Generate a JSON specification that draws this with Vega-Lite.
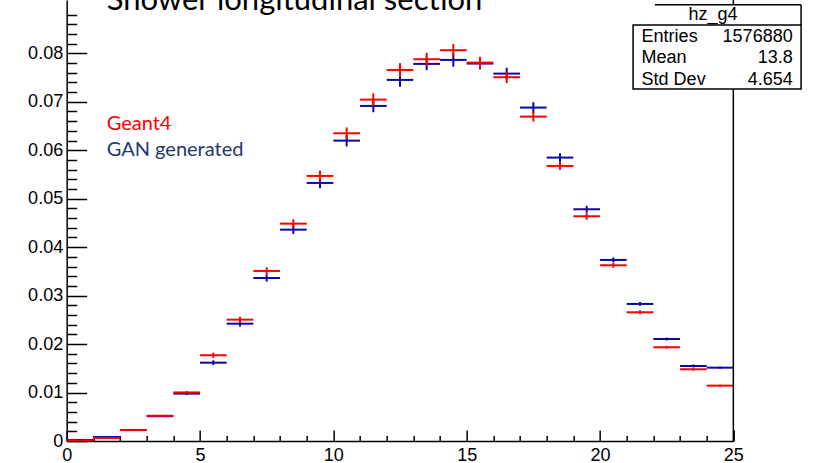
{
  "$schema": "https://vega.github.io/schema/vega-lite/v6.json",
  "width": 666.67,
  "height": 441,
  "autosize": {"type": "none"},
  "padding": {"left": 66.67, "top": 0, "right": 84.66, "bottom": 22},
  "background": "white",
  "config": {"view": {"stroke": null}, "font": "Liberation Sans"},
  "title": {
    "text": "Shower longitudinal section",
    "anchor": "start",
    "frame": "group",
    "font": "Lato",
    "fontSize": 31,
    "fontWeight": "normal",
    "color": "black",
    "baseline": "alphabetic",
    "offset": -28,
    "dx": 40,
    "dy": 14
  },
  "datasets": {
    "hist": [
      {"src": "GAN generated", "x": 0.5, "ex": 0.5, "y": 0.00022, "ey": 0.0001},
      {"src": "GAN generated", "x": 1.5, "ex": 0.5, "y": 0.00082, "ey": 0.0001},
      {"src": "GAN generated", "x": 2.5, "ex": 0.5, "y": 0.00226, "ey": 0.0001},
      {"src": "GAN generated", "x": 3.5, "ex": 0.5, "y": 0.00512, "ey": 0.0002},
      {"src": "GAN generated", "x": 4.5, "ex": 0.5, "y": 0.00978, "ey": 0.0003},
      {"src": "GAN generated", "x": 5.5, "ex": 0.5, "y": 0.01616, "ey": 0.0005},
      {"src": "GAN generated", "x": 6.5, "ex": 0.5, "y": 0.02421, "ey": 0.0006},
      {"src": "GAN generated", "x": 7.5, "ex": 0.5, "y": 0.03364, "ey": 0.00075},
      {"src": "GAN generated", "x": 8.5, "ex": 0.5, "y": 0.04361, "ey": 0.0009},
      {"src": "GAN generated", "x": 9.5, "ex": 0.5, "y": 0.05325, "ey": 0.0011},
      {"src": "GAN generated", "x": 10.5, "ex": 0.5, "y": 0.06198, "ey": 0.0012},
      {"src": "GAN generated", "x": 11.5, "ex": 0.5, "y": 0.06914, "ey": 0.0013},
      {"src": "GAN generated", "x": 12.5, "ex": 0.5, "y": 0.07451, "ey": 0.0014},
      {"src": "GAN generated", "x": 13.5, "ex": 0.5, "y": 0.07781, "ey": 0.0013},
      {"src": "GAN generated", "x": 14.5, "ex": 0.5, "y": 0.07864, "ey": 0.0014},
      {"src": "GAN generated", "x": 15.5, "ex": 0.5, "y": 0.07788, "ey": 0.0012},
      {"src": "GAN generated", "x": 16.5, "ex": 0.5, "y": 0.07581, "ey": 0.0012},
      {"src": "GAN generated", "x": 17.5, "ex": 0.5, "y": 0.0688, "ey": 0.0011},
      {"src": "GAN generated", "x": 18.5, "ex": 0.5, "y": 0.05848, "ey": 0.0009},
      {"src": "GAN generated", "x": 19.5, "ex": 0.5, "y": 0.04782, "ey": 0.0007},
      {"src": "GAN generated", "x": 20.5, "ex": 0.5, "y": 0.03736, "ey": 0.0005},
      {"src": "GAN generated", "x": 21.5, "ex": 0.5, "y": 0.02828, "ey": 0.0004},
      {"src": "GAN generated", "x": 22.5, "ex": 0.5, "y": 0.02105, "ey": 0.0003},
      {"src": "GAN generated", "x": 23.5, "ex": 0.5, "y": 0.01548, "ey": 0.0003},
      {"src": "GAN generated", "x": 24.5, "ex": 0.5, "y": 0.01513, "ey": 0.0002},
      {"src": "Geant4", "x": 0.5, "ex": 0.5, "y": 0.00012, "ey": 0.0001},
      {"src": "Geant4", "x": 1.5, "ex": 0.5, "y": 0.00062, "ey": 0.0001},
      {"src": "Geant4", "x": 2.5, "ex": 0.5, "y": 0.00228, "ey": 0.0001},
      {"src": "Geant4", "x": 3.5, "ex": 0.5, "y": 0.0052, "ey": 0.0002},
      {"src": "Geant4", "x": 4.5, "ex": 0.5, "y": 0.01002, "ey": 0.0003},
      {"src": "Geant4", "x": 5.5, "ex": 0.5, "y": 0.01769, "ey": 0.00055},
      {"src": "Geant4", "x": 6.5, "ex": 0.5, "y": 0.02504, "ey": 0.0006},
      {"src": "Geant4", "x": 7.5, "ex": 0.5, "y": 0.03509, "ey": 0.00075},
      {"src": "Geant4", "x": 8.5, "ex": 0.5, "y": 0.04485, "ey": 0.0009},
      {"src": "Geant4", "x": 9.5, "ex": 0.5, "y": 0.0547, "ey": 0.0011},
      {"src": "Geant4", "x": 10.5, "ex": 0.5, "y": 0.0635, "ey": 0.0012},
      {"src": "Geant4", "x": 11.5, "ex": 0.5, "y": 0.07044, "ey": 0.0013},
      {"src": "Geant4", "x": 12.5, "ex": 0.5, "y": 0.07657, "ey": 0.0014},
      {"src": "Geant4", "x": 13.5, "ex": 0.5, "y": 0.07878, "ey": 0.0013},
      {"src": "Geant4", "x": 14.5, "ex": 0.5, "y": 0.08064, "ey": 0.0013},
      {"src": "Geant4", "x": 15.5, "ex": 0.5, "y": 0.07808, "ey": 0.0012},
      {"src": "Geant4", "x": 16.5, "ex": 0.5, "y": 0.07507, "ey": 0.0012},
      {"src": "Geant4", "x": 17.5, "ex": 0.5, "y": 0.06694, "ey": 0.001},
      {"src": "Geant4", "x": 18.5, "ex": 0.5, "y": 0.05676, "ey": 0.0008},
      {"src": "Geant4", "x": 19.5, "ex": 0.5, "y": 0.04637, "ey": 0.0007},
      {"src": "Geant4", "x": 20.5, "ex": 0.5, "y": 0.03626, "ey": 0.0005},
      {"src": "Geant4", "x": 21.5, "ex": 0.5, "y": 0.02656, "ey": 0.0004},
      {"src": "Geant4", "x": 22.5, "ex": 0.5, "y": 0.01934, "ey": 0.0003},
      {"src": "Geant4", "x": 23.5, "ex": 0.5, "y": 0.0148, "ey": 0.0003},
      {"src": "Geant4", "x": 24.5, "ex": 0.5, "y": 0.01142, "ey": 0.0002}
    ],
    "stats": [
      {"name": "hz_g4", "value": ""},
      {"name": "Entries", "value": "1576880"},
      {"name": "Mean", "value": "13.8"},
      {"name": "Std Dev", "value": "4.654"}
    ]
  },
  "layer": [
    {
      "layer": [
        {
          "data": {"name": "hist"},
          "mark": {"type": "errorbar", "thickness": 2},
          "encoding": {
            "x": {
              "field": "x",
              "type": "quantitative",
              "scale": {"domain": [0, 25], "nice": false},
              "axis": {
                "title": null,
                "grid": false,
                "values": [0,1,2,3,4,5,6,7,8,9,10,11,12,13,14,15,16,17,18,19,20,21,22,23,24,25],
                "tickCount": 200,
                "labelExpr": "datum.value % 5 === 0 ? format(datum.value, 'd') : ''",
                "tickSize": {"condition": {"test": "datum.value % 5 === 0", "value": -11}, "value": -5.5},
                "tickColor": "black",
                "tickWidth": 1.5,
                "domainColor": "black",
                "domainWidth": 1.5,
                "labelFont": "Liberation Sans",
                "labelFontSize": 18,
                "labelColor": "black",
                "labelFlush": false,
                "labelOverlap": false,
                "labelPadding": 16
              }
            },
            "xError": {"field": "ex"},
            "y": {
              "field": "y",
              "type": "quantitative",
              "scale": {"domain": [0, 0.091], "nice": false, "zero": true},
              "axis": {
                "title": null,
                "grid": false,
                "values": [0,0.002,0.004,0.006,0.008,0.01,0.012,0.014,0.016,0.018,0.02,0.022,0.024,0.026,0.028,0.03,0.032,0.034,0.036,0.038,0.04,0.042,0.044,0.046,0.048,0.05,0.052,0.054,0.056,0.058,0.06,0.062,0.064,0.066,0.068,0.07,0.072,0.074,0.076,0.078,0.08,0.082,0.084,0.086,0.088],
                "tickCount": 200,
                "labelExpr": "abs(datum.value * 100 - round(datum.value * 100)) < 0.000001 ? (datum.value === 0 ? '0' : format(datum.value, '.2f')) : ''",
                "tickSize": {"condition": {"test": "abs(datum.value * 100 - round(datum.value * 100)) < 0.000001", "value": -20}, "value": -10},
                "tickColor": "black",
                "tickWidth": 1.5,
                "domainColor": "black",
                "domainWidth": 1.5,
                "labelFont": "Liberation Sans",
                "labelFontSize": 18,
                "labelColor": "black",
                "labelFlush": false,
                "labelOverlap": false,
                "labelPadding": 24
              }
            },
            "color": {
              "field": "src",
              "type": "nominal",
              "scale": {"domain": ["Geant4", "GAN generated"], "range": ["#ff0000", "#0a0aa0"]},
              "legend": null
            }
          }
        },
        {
          "data": {"name": "hist"},
          "mark": {"type": "errorbar", "thickness": 2},
          "encoding": {
            "x": {"field": "x", "type": "quantitative"},
            "y": {"field": "y", "type": "quantitative"},
            "yError": {"field": "ey"},
            "color": {"field": "src", "type": "nominal", "legend": null}
          }
        },
        {
          "data": {"values": [{}]},
          "mark": {"type": "rule", "color": "black", "strokeWidth": 1.5},
          "encoding": {"x": {"datum": 25, "type": "quantitative"}}
        },
        {
          "data": {"values": [{"label": "Geant4"}]},
          "mark": {"type": "text", "align": "left", "baseline": "alphabetic", "font": "Lato", "fontSize": 20, "color": "#ff0000"},
          "encoding": {
            "x": {"datum": 1.5, "type": "quantitative"},
            "y": {"datum": 0.0641, "type": "quantitative"},
            "text": {"field": "label"}
          }
        },
        {
          "data": {"values": [{"label": "GAN generated"}]},
          "mark": {"type": "text", "align": "left", "baseline": "alphabetic", "font": "Lato", "fontSize": 20, "color": "#1f3870"},
          "encoding": {
            "x": {"datum": 1.5, "type": "quantitative"},
            "y": {"datum": 0.0589, "type": "quantitative"},
            "text": {"field": "label"}
          }
        },
        {
          "data": {"values": [{}]},
          "mark": {"type": "rect", "fill": "white", "stroke": null},
          "encoding": {
            "x": {"datum": 22.06, "type": "quantitative"},
            "x2": {"datum": 27.54},
            "y": {"datum": 0.09, "type": "quantitative"},
            "y2": {"datum": 0.08586}
          }
        },
        {
          "data": {"values": [{}]},
          "mark": {"type": "rule", "color": "black", "strokeWidth": 1.5},
          "encoding": {
            "x": {"datum": 22.06, "type": "quantitative"},
            "x2": {"datum": 27.54},
            "y": {"datum": 0.09, "type": "quantitative"}
          }
        },
        {
          "data": {"values": [{}]},
          "mark": {"type": "rule", "color": "black", "strokeWidth": 1.5},
          "encoding": {
            "x": {"datum": 27.54, "type": "quantitative"},
            "y": {"datum": 0.09, "type": "quantitative"},
            "y2": {"datum": 0.08586}
          }
        },
        {
          "data": {"values": [{}]},
          "mark": {"type": "rect", "fill": "white", "stroke": "black", "strokeWidth": 1.5},
          "encoding": {
            "x": {"datum": 21.24, "type": "quantitative"},
            "x2": {"datum": 27.54},
            "y": {"datum": 0.08586, "type": "quantitative"},
            "y2": {"datum": 0.07265}
          }
        }
      ]
    },
    {
      "data": {"name": "stats"},
      "encoding": {
        "y": {
          "field": "name",
          "type": "nominal",
          "scale": {"type": "point", "domain": ["hz_g4", "Entries", "Mean", "Std Dev"], "range": [15, 80], "padding": 0},
          "axis": null
        },
        "text": {"field": "name"}
      },
      "layer": [
        {
          "transform": [{"filter": "datum.name === 'hz_g4'"}],
          "mark": {"type": "text", "align": "center", "baseline": "middle", "font": "Liberation Sans", "fontSize": 18, "color": "black"},
          "encoding": {"x": {"datum": 24.24, "type": "quantitative"}}
        },
        {
          "transform": [{"filter": "datum.name !== 'hz_g4'"}],
          "mark": {"type": "text", "align": "left", "baseline": "middle", "font": "Liberation Sans", "fontSize": 18, "color": "black"},
          "encoding": {"x": {"datum": 21.56, "type": "quantitative"}}
        },
        {
          "transform": [{"filter": "datum.name !== 'hz_g4'"}],
          "mark": {"type": "text", "align": "right", "baseline": "middle", "font": "Liberation Sans", "fontSize": 18, "color": "black"},
          "encoding": {"x": {"datum": 27.225, "type": "quantitative"}, "text": {"field": "value"}}
        }
      ]
    }
  ],
  "resolve": {"scale": {"y": "independent"}}
}
